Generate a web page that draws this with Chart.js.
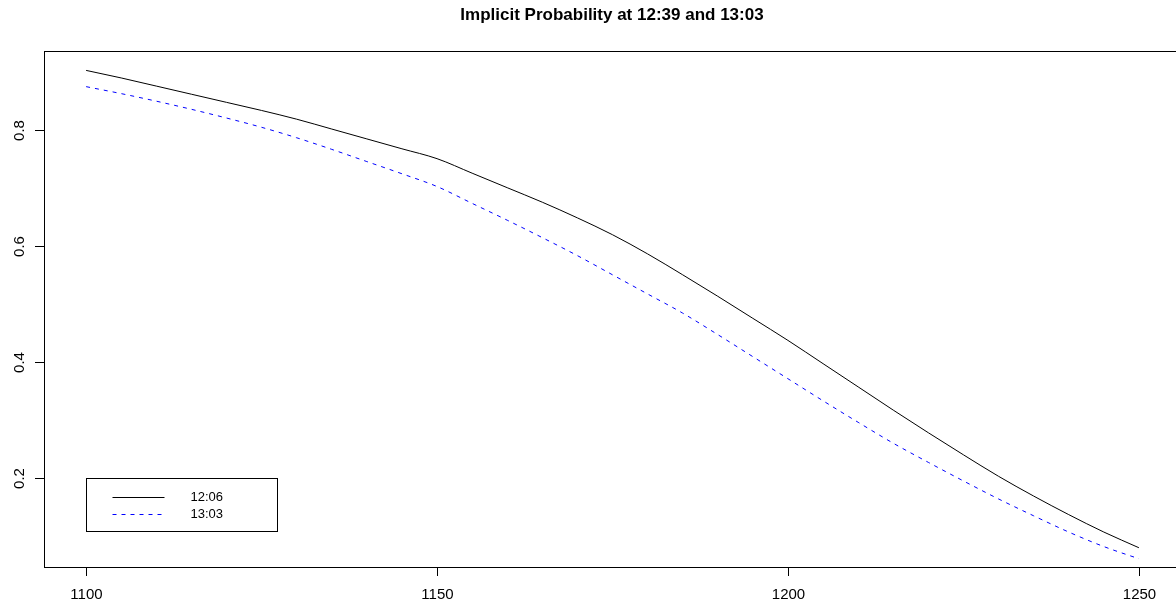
<!DOCTYPE html>
<html>
<head>
<meta charset="utf-8">
<title>Implicit Probability</title>
<script src="https://cdn.jsdelivr.net/npm/chart.js@4/dist/chart.umd.min.js"></script>
<style>
  html, body { margin: 0; padding: 0; background: #fff; overflow: hidden; }
  #wrap { width: 1176px; height: 609px; overflow: hidden; }
  canvas { display: block; }
</style>
</head>
<body>
<div id="wrap"><canvas id="chart" width="1190" height="609"></canvas></div>
<script>
// strike levels on the x axis
const strikes = [1100, 1105, 1110, 1115, 1120, 1125, 1130, 1135, 1140, 1145,
  1150, 1155, 1160, 1165, 1170, 1175, 1180, 1185, 1190, 1195,
  1200, 1205, 1210, 1215, 1220, 1225, 1230, 1235, 1240, 1245, 1250];

// 12:06 curve (solid black)
const prob1206 = [0.902, 0.889, 0.875, 0.861, 0.847, 0.833, 0.818, 0.801, 0.784, 0.767,
  0.750, 0.725, 0.700, 0.675, 0.648, 0.619, 0.586, 0.550, 0.513, 0.475,
  0.437, 0.397, 0.357, 0.317, 0.278, 0.240, 0.203, 0.169, 0.137, 0.107, 0.080];

// 13:03 curve (dashed blue)
const prob1303 = [0.874, 0.862, 0.849, 0.835, 0.820, 0.804, 0.786, 0.766, 0.745, 0.724,
  0.702, 0.673, 0.644, 0.614, 0.583, 0.550, 0.517, 0.484, 0.447, 0.409,
  0.371, 0.333, 0.296, 0.260, 0.227, 0.195, 0.164, 0.135, 0.107, 0.082, 0.061];

const xTicks = [1100, 1150, 1200, 1250];
const yTicks = [0.2, 0.4, 0.6, 0.8];
const seriesLabels = ['12:06', '13:03'];
const titleText = 'Implicit Probability at 12:39 and 13:03';

const FONT = '"Liberation Sans", Arial, Helvetica, sans-serif';

// R-style frame, axes, title and legend
const baseGraphics = {
  id: 'baseGraphics',
  afterDraw(chart) {
    const { ctx, chartArea: a, scales: { x, y } } = chart;
    ctx.save();
    ctx.strokeStyle = '#000';
    ctx.fillStyle = '#000';
    ctx.lineWidth = 1;

    // box
    ctx.strokeRect(Math.round(a.left) + 0.5, Math.round(a.top) + 0.5,
      Math.round(a.right - a.left), Math.round(a.bottom - a.top));

    // x axis
    ctx.font = '15px ' + FONT;
    ctx.textAlign = 'center';
    ctx.textBaseline = 'alphabetic';
    xTicks.forEach(v => {
      const px = Math.round(x.getPixelForValue(v)) + 0.5;
      ctx.beginPath();
      ctx.moveTo(px, a.bottom);
      ctx.lineTo(px, a.bottom + 9);
      ctx.stroke();
      ctx.fillText(String(v), px, 599);
    });

    // y axis
    yTicks.forEach(v => {
      const py = Math.round(y.getPixelForValue(v)) + 0.5;
      ctx.beginPath();
      ctx.moveTo(a.left, py);
      ctx.lineTo(a.left - 9, py);
      ctx.stroke();
      ctx.save();
      ctx.translate(24, py);
      ctx.rotate(-Math.PI / 2);
      ctx.fillText(v.toFixed(1), 0, 0);
      ctx.restore();
    });

    // title
    ctx.font = 'bold 17px ' + FONT;
    ctx.fillText(titleText, 612, 20);

    // legend at (1100, 0.2)
    const lx = Math.round(x.getPixelForValue(1100)) + 0.5;
    const ly = Math.round(y.getPixelForValue(0.2)) + 0.5;
    ctx.strokeRect(lx, ly, 191, 53);
    ctx.font = '13px ' + FONT;
    ctx.textAlign = 'left';
    ctx.textBaseline = 'middle';
    const rows = [
      { color: '#000', dash: [] },
      { color: '#0000ff', dash: [4, 5] }
    ];
    rows.forEach((r, i) => {
      const ry = Math.round(ly + 18 + i * 17.5) + 0.5;
      ctx.strokeStyle = r.color;
      ctx.setLineDash(r.dash);
      ctx.beginPath();
      ctx.moveTo(lx + 26, ry);
      ctx.lineTo(lx + 78, ry);
      ctx.stroke();
      ctx.setLineDash([]);
      ctx.fillStyle = '#000';
      ctx.fillText(seriesLabels[i], lx + 104, ry);
    });
    ctx.restore();
  }
};

new Chart(document.getElementById('chart'), {
  type: 'line',
  data: {
    datasets: [
      {
        label: seriesLabels[0],
        data: strikes.map((s, i) => ({ x: s, y: prob1206[i] })),
        borderColor: '#000',
        borderWidth: 1,
        pointRadius: 0,
        cubicInterpolationMode: 'monotone',
        fill: false
      },
      {
        label: seriesLabels[1],
        data: strikes.map((s, i) => ({ x: s, y: prob1303[i] })),
        borderColor: '#0000ff',
        borderWidth: 1,
        borderDash: [4, 5],
        pointRadius: 0,
        cubicInterpolationMode: 'monotone',
        fill: false
      }
    ]
  },
  options: {
    responsive: false,
    animation: false,
    devicePixelRatio: 1,
    layout: { padding: { left: 44, top: 51, right: 9, bottom: 42 } },
    plugins: { legend: { display: false }, tooltip: { enabled: false }, title: { display: false } },
    scales: {
      x: { type: 'linear', min: 1094, max: 1256, display: false },
      y: { type: 'linear', min: 0.0468, max: 0.9354, display: false }
    }
  },
  plugins: [baseGraphics]
});
</script>
</body>
</html>
